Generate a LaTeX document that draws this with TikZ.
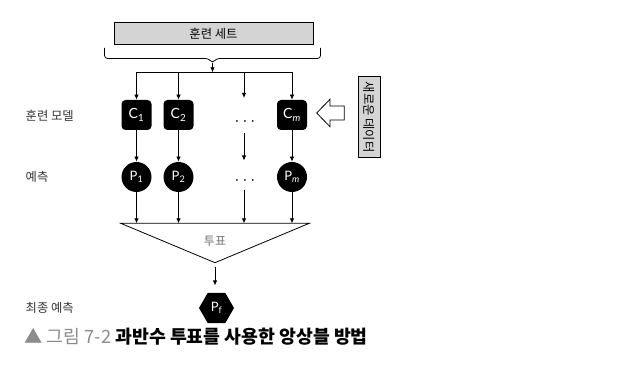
\documentclass[tikz,border=0pt]{standalone}
\usepackage{fontspec}
\setmainfont{Noto Sans CJK KR}
\newfontfamily\kr{Noto Sans CJK KR}
\newfontfamily\gs{Lato}
\usetikzlibrary{arrows.meta,shapes.geometric}
\begin{document}
\begin{tikzpicture}[x=1pt,y=-1pt, line width=0.8pt,
  arr/.style={-{Latex[length=5pt,width=4.5pt]}},
  cbox/.style={fill=black, rounded corners=4pt, minimum width=30pt, minimum height=30pt, inner sep=0pt, text=white, font=\gs\fontsize{14}{14}\selectfont},
  pcirc/.style={circle, fill=black, minimum size=30pt, inner sep=0pt, text=white, font=\gs\fontsize{13}{13}\selectfont},
  lab/.style={anchor=west, text=black!80, font=\kr\fontsize{12.3}{14}\selectfont},
  graybox/.style={draw, fill=black!17, line width=0.8pt, inner sep=0pt, font=\kr\fontsize{12.3}{14}\selectfont},
  dotsnode/.style={inner sep=0pt, font=\fontsize{7}{7}\selectfont}
]
\useasboundingbox (0,0) rectangle (643,366);

% training set box
\node[graybox, minimum width=199pt, minimum height=21.5pt] (set) at (213.5,33.5) {훈련 세트};

% bracket
\coordinate (bt) at (212.5,63);
\draw[rounded corners=3pt] (104.5,48) -- (104.5,58.5) -- (208.5,58.5) -- (bt) -- (216.5,58.5) -- (320.5,58.5) -- (320.5,48);

% distribution line
\coordinate (hj) at (212.5,72.3);
\coordinate (h1) at (136.5,72.3);
\coordinate (h2) at (178.5,72.3);
\coordinate (h3) at (244,72.3);
\coordinate (hm) at (292,72.3);
\draw[arr] (bt) -- (hj);
\draw (h1) -- (hm);

% classifiers
\node[cbox] (c1) at (136.5,115) {C\textsubscript{1}};
\node[cbox] (c2) at (178.5,115) {C\textsubscript{2}};
\node[cbox] (cm) at (292,115) {C\textsubscript{\itshape m}};
\node[dotsnode] (dc) at (245,122) {\textbullet\hspace{5.5pt}\textbullet\hspace{5.5pt}\textbullet};
\coordinate (dct) at (244,98);
\coordinate (dcb) at (244,133);

\draw[arr] (h1) -- (c1);
\draw[arr] (h2) -- (c2);
\draw[arr] (h3) -- (dct);
\draw[arr] (hm) -- (cm);

% predictions
\node[pcirc] (p1) at (136.5,177) {P\textsubscript{1}};
\node[pcirc] (p2) at (178.5,177) {P\textsubscript{2}};
\node[pcirc] (pm) at (292,177) {P\textsubscript{\itshape m}};
\node[dotsnode] (dp) at (245,181) {\textbullet\hspace{5.5pt}\textbullet\hspace{5.5pt}\textbullet};
\coordinate (dpt) at (244,160.5);
\coordinate (dpb) at (244,190);

\draw[arr] (c1) -- (p1);
\draw[arr] (c2) -- (p2);
\draw[arr] (dcb) -- (dpt);
\draw[arr] (cm) -- (pm);

% voting triangle
\coordinate (tl) at (120.7,223.3);
\coordinate (tr) at (309.3,223.3);
\coordinate (ta) at (215,262.7);
\draw[line join=miter] (tl) -- (tr) -- (ta) -- cycle;
\node[text=black!55, font=\kr\fontsize{12}{14}\selectfont] (vote) at (215,241.5) {투표};
\coordinate (t1) at (136.5,223.3);
\coordinate (t2) at (178.5,223.3);
\coordinate (t3) at (244,223.3);
\coordinate (tm) at (292,223.3);
\draw[arr] (p1) -- (t1);
\draw[arr] (p2) -- (t2);
\draw[arr] (dpb) -- (t3);
\draw[arr] (pm) -- (tm);

% final prediction
\node[regular polygon, regular polygon sides=6, fill=black, minimum size=35pt, inner sep=0pt, text=white, font=\gs\fontsize{13}{13}\selectfont] (pf) at (216.5,308) {P\textsubscript{f}};
\draw[arr, shorten <=4pt, shorten >=7pt] (ta) -- (pf.north -| ta);

% new data
\node[graybox, rotate=-90, minimum width=81pt, minimum height=22pt] (nd) at (369,117.2) {새로운 데이터};
\draw[line join=miter] (316.7,113) -- (330,99.3) -- (330,106) -- (344.3,106) -- (344.3,120) -- (330,120) -- (330,126.7) -- cycle;

% row labels
\node[lab] (l1) at (22,116) {훈련 모델};
\node[lab] (l2) at (22,177) {예측};
\node[lab] (l3) at (22,308) {최종 예측};

% caption
\node[anchor=west, inner sep=0pt, font=\kr\fontsize{18.3}{20}\selectfont] (cap) at (24,337) {\textcolor{black!45}{▲ 그림 7-2} {\bfseries 과반수 투표를 사용한 앙상블 방법}};
\end{tikzpicture}
\end{document}
